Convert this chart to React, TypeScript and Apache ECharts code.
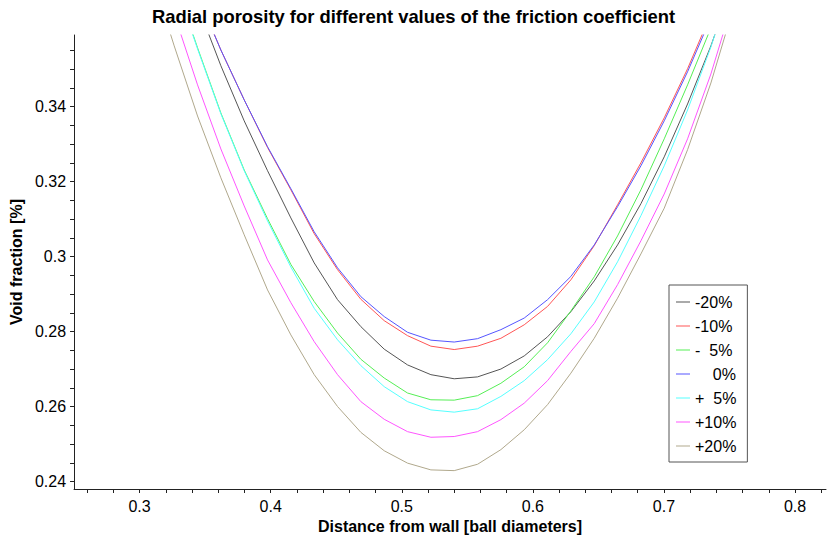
import React, { useEffect, useRef } from "react";
import * as echarts from "echarts";

// Distance from wall [ball diameters]
const X = [
  0.3086, 0.3264, 0.3442, 0.362, 0.3798, 0.3976, 0.4154, 0.4332, 0.451, 0.4688,
  0.4866, 0.5044, 0.5222, 0.54, 0.5578, 0.5756, 0.5934, 0.6112, 0.629, 0.6468,
  0.6646, 0.6824, 0.7002, 0.718, 0.7358, 0.7536, 0.7714,
];

const M20 = [
  0.4085, 0.3871, 0.3671, 0.3509, 0.3362, 0.3229, 0.3103, 0.2983, 0.2885, 0.2813,
  0.2753, 0.2711, 0.2685, 0.2674, 0.2679, 0.27, 0.2735, 0.2786, 0.2853, 0.2935,
  0.3031, 0.3141, 0.3266, 0.3407, 0.3562, 0.3738, 0.3938,
];
const M10 = [
  0.4111, 0.3898, 0.3698, 0.3551, 0.3418, 0.3291, 0.3178, 0.3061, 0.2965, 0.2886,
  0.2829, 0.2789, 0.2761, 0.2752, 0.2761, 0.2782, 0.2818, 0.2867, 0.2938, 0.3029,
  0.3138, 0.325, 0.337, 0.3501, 0.3647, 0.3845, 0.4071,
];
const M5 = [
  0.3951, 0.3738, 0.3557, 0.3383, 0.3231, 0.3101, 0.2979, 0.288, 0.2796, 0.2726,
  0.2676, 0.2636, 0.2618, 0.2617, 0.2629, 0.2662, 0.2706, 0.277, 0.2855, 0.2946,
  0.3055, 0.3178, 0.3314, 0.3458, 0.361, 0.3805, 0.4031,
];
const P0 = [
  0.4111, 0.3898, 0.3698, 0.3551, 0.3418, 0.3293, 0.3181, 0.3066, 0.297, 0.2893,
  0.284, 0.2798, 0.2777, 0.2772, 0.2781, 0.2805, 0.2836, 0.2885, 0.2947, 0.3031,
  0.3133, 0.3242, 0.3362, 0.3493, 0.3637, 0.3831, 0.4058,
];
const P5 = [
  0.3951, 0.3738, 0.3554, 0.3381, 0.3229, 0.3095, 0.2972, 0.2862, 0.2778, 0.2709,
  0.2653, 0.2613, 0.2591, 0.2585, 0.2594, 0.2627, 0.2669, 0.2725, 0.2794, 0.2879,
  0.2986, 0.3109, 0.3242, 0.3391, 0.3559, 0.3751, 0.3965,
];
const P10 = [
  0.3858, 0.3647, 0.3458, 0.3287, 0.3135, 0.2991, 0.2877, 0.2773, 0.2685, 0.2613,
  0.2566, 0.2533, 0.2518, 0.252, 0.2533, 0.2565, 0.2609, 0.2669, 0.2747, 0.2821,
  0.2925, 0.3042, 0.3167, 0.3314, 0.3487, 0.3692, 0.3925,
];
const P20 = [
  0.3759, 0.3562, 0.3375, 0.321, 0.3058, 0.2911, 0.2791, 0.2685, 0.26, 0.2531,
  0.2482, 0.2449, 0.2431, 0.2429, 0.2446, 0.2485, 0.2538, 0.2605, 0.2689, 0.2782,
  0.2889, 0.3007, 0.3129, 0.3285, 0.3463, 0.3671, 0.3898,
];

const NAMES = ["-20%", "-10%", "-\u20075%", "\u2007\u20070%", "+\u20075%", "+10%", "+20%"];
const VALUES = [M20, M10, M5, P0, P5, P10, P20];
const COLORS = ["#555555", "#ff5555", "#55ee55", "#5555ff", "#55ffff", "#ff55ff", "#b0a88c"];

const X_LABELS = [0.3, 0.4, 0.5, 0.6, 0.7, 0.8];
const X_TICKS = [
  0.26, 0.28, 0.3, 0.32, 0.34, 0.36, 0.38, 0.4, 0.42, 0.44, 0.46, 0.48, 0.5, 0.52,
  0.54, 0.56, 0.58, 0.6, 0.62, 0.64, 0.66, 0.68, 0.7, 0.72, 0.74, 0.76, 0.78, 0.8, 0.82,
];
const Y_LABELS = [0.24, 0.26, 0.28, 0.3, 0.32, 0.34];
const Y_TICKS = [
  0.24, 0.245, 0.25, 0.255, 0.26, 0.265, 0.27, 0.275, 0.28, 0.285, 0.29, 0.295, 0.3,
  0.305, 0.31, 0.315, 0.32, 0.325, 0.33, 0.335, 0.34, 0.345, 0.35, 0.355,
];

const FONT = "'Liberation Sans', Arial, Helvetica, sans-serif";

export default function App() {
  const ref = useRef<HTMLDivElement>(null);
  useEffect(() => {
    if (!ref.current) return;
    const chart = echarts.init(ref.current, null, { renderer: "svg" });
    const axisCommon = {
      axisLine: { show: true, lineStyle: { color: "#222", width: 1 } },
      axisTick: { show: true, length: 4, lineStyle: { color: "#222", width: 1 } },
      splitLine: { show: false },
    };
    chart.setOption({
      animation: false,
      backgroundColor: "#ffffff",
      textStyle: { fontFamily: FONT },
      title: {
        text: "Radial porosity for different values of the friction coefficient",
        left: "center",
        top: 7,
        padding: 0,
        textStyle: { fontFamily: FONT, fontSize: 18.4, fontWeight: "bold", color: "#000" },
      },
      grid: { left: 73, right: 1, top: 35, bottom: 52, containLabel: false },
      legend: {
        orient: "vertical",
        left: 669,
        top: 285,
        padding: [9, 11, 8, 7],
        itemGap: 8,
        itemWidth: 14,
        itemHeight: 1,
        icon: "rect",
        borderColor: "#555",
        borderWidth: 1,
        backgroundColor: "#fff",
        data: NAMES,
        textStyle: { fontFamily: FONT, fontSize: 16, color: "#000" },
      },
      xAxis: {
        type: "value",
        min: 0.25,
        max: 0.8236,
        name: "Distance from wall [ball diameters]",
        nameLocation: "middle",
        nameGap: 27,
        nameTextStyle: { fontFamily: FONT, fontSize: 16, fontWeight: "bold", color: "#000", verticalAlign: "top" },
        ...axisCommon,
        axisTick: { ...axisCommon.axisTick, customValues: X_TICKS },
        axisLabel: { customValues: X_LABELS, fontFamily: FONT, fontSize: 16, color: "#000", margin: 9 },
      },
      yAxis: {
        type: "value",
        min: 0.238,
        max: 0.3591,
        name: "Void fraction [%]",
        nameLocation: "middle",
        nameGap: 48,
        nameTextStyle: { fontFamily: FONT, fontSize: 16, fontWeight: "bold", color: "#000" },
        ...axisCommon,
        axisTick: { ...axisCommon.axisTick, customValues: Y_TICKS },
        axisLabel: { customValues: Y_LABELS, fontFamily: FONT, fontSize: 16, color: "#000", margin: 8 },
      },
      series: NAMES.map((name, i) => ({
        name,
        type: "line",
        data: X.map((x, j) => [x, VALUES[i][j]]),
        symbol: "none",
        showSymbol: false,
        clip: true,
        color: COLORS[i],
        lineStyle: { color: COLORS[i], width: 1 },
      })),
    });
    return () => chart.dispose();
  }, []);
  return (
    <div
      ref={ref}
      style={{ position: "fixed", left: 0, top: 0, width: 827, height: 541, background: "#fff" }}
    />
  );
}
